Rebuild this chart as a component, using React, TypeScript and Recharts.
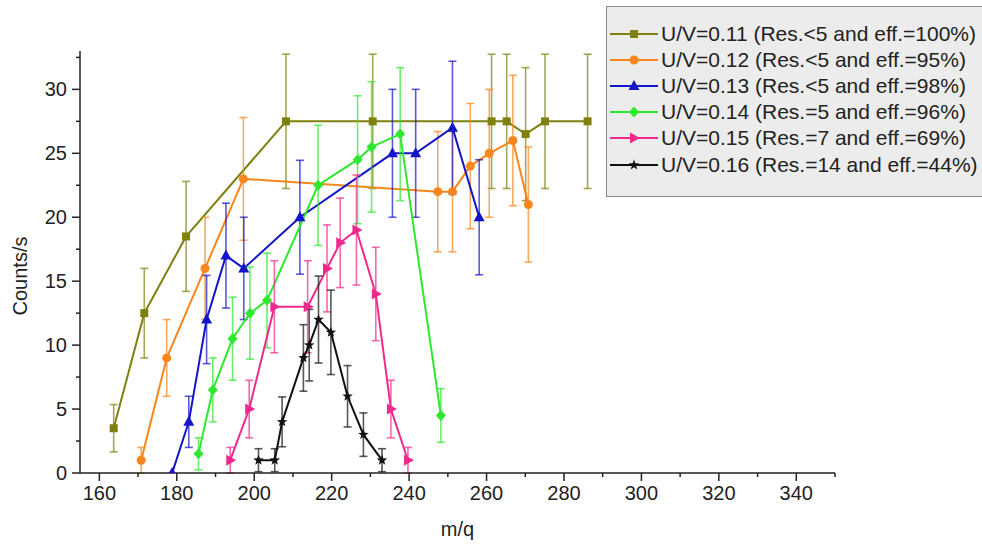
import React from 'react'
import {
  ComposedChart, Line, XAxis, YAxis, ErrorBar, Legend,
} from 'recharts'

// m/q positions, counts and error for each U/V setting
const mq011 = [163.7, 171.6, 182.4, 208.2, 230.6, 261.3, 265.2, 270.1, 275.1, 286.1]
const counts011 = [3.5, 12.5, 18.5, 27.5, 27.5, 27.5, 27.5, 26.5, 27.5, 27.5]
const err011 = [1.85, 3.5, 4.3, 5.25, 5.25, 5.25, 5.25, 5.2, 5.25, 5.25]

const mq012 = [170.8, 177.4, 187.3, 197.2, 247.4, 251.2, 255.8, 260.7, 266.8, 270.8]
const counts012 = [1.0, 9.0, 16.0, 23.0, 22.0, 22.0, 24.0, 25.0, 26.0, 21.0]
const err012 = [1.0, 3.0, 4.0, 4.8, 4.7, 4.7, 4.9, 5.0, 5.1, 4.5]

const mq013 = [178.8, 183.1, 187.7, 192.7, 197.3, 211.8, 235.7, 241.7, 251.2, 258.1]
const counts013 = [0, 4.0, 12.0, 17.0, 16.0, 20.0, 25.0, 25.0, 27.0, 20.0]
const err013 = [0, 2.0, 3.45, 4.1, 4.0, 4.45, 5.0, 5.0, 5.2, 4.5]

const mq014 = [185.6, 189.3, 194.4, 198.9, 203.3, 216.5, 226.7, 230.3, 237.7, 248.2]
const counts014 = [1.5, 6.5, 10.5, 12.5, 13.5, 22.5, 24.5, 25.5, 26.5, 4.5]
const err014 = [1.25, 2.5, 3.25, 3.6, 3.7, 4.7, 5.0, 5.1, 5.2, 2.1]

const mq015 = [193.8, 198.7, 205.2, 213.8, 218.8, 222.2, 226.4, 231.4, 235.3, 239.7]
const counts015 = [1.0, 5.0, 13.0, 13.0, 16.0, 18.0, 19.0, 14.0, 5.0, 1.0]
const err015 = [1.0, 2.25, 3.6, 3.6, 3.4, 3.5, 4.3, 3.65, 2.25, 1.0]

const mq016 = [201.1, 205.3, 207.2, 212.7, 214.2, 216.6, 219.8, 224.1, 228.2, 233.0]
const counts016 = [1.0, 1.0, 4.0, 9.0, 10.0, 12.0, 11.0, 6.0, 3.0, 1.0]
const err016 = [0.9, 0.9, 1.95, 2.6, 2.8, 3.4, 3.3, 2.4, 1.7, 0.9]

const xTicks = [160, 170, 180, 190, 200, 210, 220, 230, 240, 250, 260, 270, 280, 290, 300, 310, 320, 330, 340, 350]
const yTicks = [0, 2.5, 5, 7.5, 10, 12.5, 15, 17.5, 20, 22.5, 25, 27.5, 30, 32.5]

const FONT = '"Liberation Sans", Arial, sans-serif'
const INK = '#222'

type Shape = 'square' | 'circle' | 'triangle' | 'diamond' | 'right' | 'star'

const rows = (xs: number[], ys: number[], es: number[]) =>
  xs.map((x, i) => ({ x, y: ys[i], e: es[i] }))

const series: { name: string; color: string; shape: Shape; data: { x: number; y: number; e: number }[] }[] = [
  { name: 'U/V=0.11 (Res.<5 and eff.=100%)', color: '#808010', shape: 'square', data: rows(mq011, counts011, err011) },
  { name: 'U/V=0.12 (Res.<5 and eff.=95%)', color: '#f7861c', shape: 'circle', data: rows(mq012, counts012, err012) },
  { name: 'U/V=0.13 (Res.<5 and eff.=98%)', color: '#1414c8', shape: 'triangle', data: rows(mq013, counts013, err013) },
  { name: 'U/V=0.14 (Res.=5 and eff.=96%)', color: '#2ee82e', shape: 'diamond', data: rows(mq014, counts014, err014) },
  { name: 'U/V=0.15 (Res.=7 and eff.=69%)', color: '#ee2a8c', shape: 'right', data: rows(mq015, counts015, err015) },
  { name: 'U/V=0.16 (Res.=14 and eff.=44%)', color: '#111111', shape: 'star', data: rows(mq016, counts016, err016) },
]

function Marker({ cx, cy, shape, color }: { cx: number; cy: number; shape: Shape; color: string }) {
  if (cx == null || cy == null) return null
  switch (shape) {
    case 'square':
      return <rect x={cx - 4} y={cy - 4} width={8} height={8} fill={color} />
    case 'circle':
      return <circle cx={cx} cy={cy} r={4.5} fill={color} />
    case 'triangle':
      return <polygon points={`${cx},${cy - 6} ${cx - 5.5},${cy + 4} ${cx + 5.5},${cy + 4}`} fill={color} />
    case 'diamond':
      return <polygon points={`${cx},${cy - 5.5} ${cx + 5},${cy} ${cx},${cy + 5.5} ${cx - 5},${cy}`} fill={color} />
    case 'right':
      return <polygon points={`${cx + 6},${cy} ${cx - 4},${cy - 5.5} ${cx - 4},${cy + 5.5}`} fill={color} />
    case 'star': {
      const pts: string[] = []
      for (let k = 0; k < 10; k++) {
        const r = k % 2 === 0 ? 5.5 : 2.3
        const a = -Math.PI / 2 + (k * Math.PI) / 5
        pts.push(`${cx + r * Math.cos(a)},${cy + r * Math.sin(a)}`)
      }
      return <polygon points={pts.join(' ')} fill={color} />
    }
  }
  return null
}

function XTick(props: any) {
  const { x, y, payload } = props
  const v = payload.value
  const major = v % 20 === 0
  const ay = y - 13
  return (
    <g>
      <line x1={x} x2={x} y1={ay} y2={ay + (major ? 8 : 4)} stroke={INK} strokeWidth={1.5} />
      {major && v <= 340 && (
        <text x={x} y={y} dy="0.71em" textAnchor="middle" fontSize={20} fontFamily={FONT} fill={INK}>{v}</text>
      )}
    </g>
  )
}

function YTick(props: any) {
  const { x, y, payload } = props
  const v = payload.value
  const major = v % 5 === 0
  const ax = x + 13
  return (
    <g>
      <line x1={ax} x2={ax - (major ? 8 : 4)} y1={y} y2={y} stroke={INK} strokeWidth={1.5} />
      {major && (
        <text x={x} y={y} dy="0.355em" textAnchor="end" fontSize={20} fontFamily={FONT} fill={INK}>{v}</text>
      )}
    </g>
  )
}

function LegendBox() {
  return (
    <div
      style={{
        background: '#ececec',
        border: '1px solid #8a8a8a',
        boxSizing: 'border-box',
        width: 380,
        height: 191,
        paddingTop: 14,
        paddingLeft: 3,
        fontFamily: FONT,
      }}
    >
      {series.map((s) => (
        <div key={s.name} style={{ display: 'flex', alignItems: 'center', height: 26.1 }}>
          <svg width={48} height={26} style={{ flex: 'none' }}>
            <line x1={0} x2={48} y1={13} y2={13} stroke={s.color} strokeWidth={2} />
            <Marker cx={24} cy={13} shape={s.shape} color={s.color} />
          </svg>
          <span style={{ marginLeft: 3, fontSize: 21, color: INK, whiteSpace: 'nowrap', lineHeight: '26px' }}>{s.name}</span>
        </div>
      ))}
    </div>
  )
}

export default function App() {
  return (
    <div style={{ position: 'absolute', left: 0, top: 0, width: 982, height: 544, background: '#fff' }}>
      <ComposedChart width={982} height={544} margin={{ top: 51, right: 147, bottom: 0, left: 0 }}>
        <XAxis
          type="number"
          dataKey="x"
          domain={[155, 350]}
          ticks={xTicks}
          allowDataOverflow
          height={71}
          tickSize={8}
          tickMargin={5}
          tickLine={false}
          tick={<XTick />}
          axisLine={{ stroke: INK, strokeWidth: 1.5 }}
          interval={0}
          label={{ value: 'm/q', position: 'insideBottom', offset: 8, fontSize: 20, fontFamily: FONT, fill: INK }}
        />
        <YAxis
          type="number"
          domain={[0, 33]}
          ticks={yTicks}
          allowDataOverflow
          width={80}
          tickSize={8}
          tickMargin={5}
          tickLine={false}
          tick={<YTick />}
          axisLine={{ stroke: INK, strokeWidth: 1.5 }}
          interval={0}
          label={{
            content: () => (
              <text x={20} y={276} transform="rotate(-90 20 276)" textAnchor="middle" dominantBaseline="central"
                fontSize={20} fontFamily={FONT} fill={INK}>Counts/s</text>
            ),
          }}
        />
        <Legend
          layout="horizontal"
          verticalAlign="middle"
          align="center"
          content={() => <LegendBox />}
          wrapperStyle={{ left: 606, top: 6, width: 380, height: 191 }}
        />
        {series.map((s) => (
          <Line
            key={s.name}
            name={s.name}
            data={s.data}
            dataKey="y"
            type="linear"
            stroke={s.color}
            strokeWidth={2}
            isAnimationActive={false}
            activeDot={false}
            dot={(p: any) => <Marker key={`${s.shape}-${p.index}`} cx={p.cx} cy={p.cy} shape={s.shape} color={s.color} />}
          >
            <ErrorBar dataKey="e" direction="y" width={4} stroke={s.color} strokeWidth={1.6} strokeOpacity={0.7} isAnimationActive={false} />
          </Line>
        ))}
      </ComposedChart>
    </div>
  )
}
